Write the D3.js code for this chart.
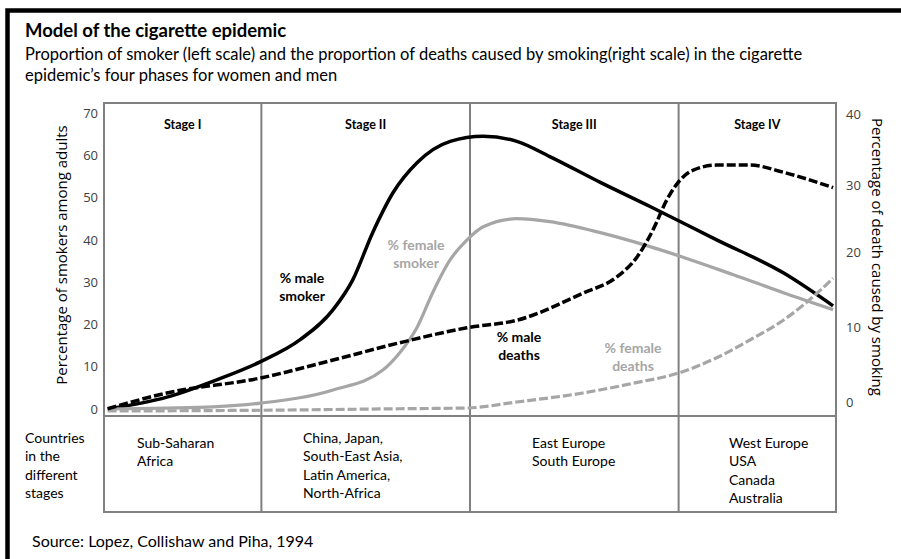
<!DOCTYPE html>
<html>
<head>
<meta charset="utf-8">
<script src="https://cdn.jsdelivr.net/npm/d3@7"></script>
<style>
  body { margin: 0; background: #fff; }
  svg { display: block; }
  .calib { font-family: Lato, "Open Sans", sans-serif; }
  .axis text { font-family: "Open Sans", sans-serif; font-size: 13px; fill: #404040; }
</style>
</head>
<body>
<div id="chart"></div>
<script>
// ---- data ----
// x runs 0..100 across the four stages (no ticks in the original)
const stageNames = ['Stage I', 'Stage II', 'Stage III', 'Stage IV'];
const stageBounds = [0, 21.5, 50, 78.5, 100];
const stageCountries = [
    ['Sub-Saharan', 'Africa'],
    ['China, Japan,', 'South-East Asia,', 'Latin America,', 'North-Africa'],
    ['East Europe', 'South Europe'],
    ['West Europe', 'USA', 'Canada', 'Australia']
];
const rowLabel = ['Countries', 'in the', 'different', 'stages'];

const leftTicks = [0, 10, 20, 30, 40, 50, 60, 70];
const rightTicks = [0, 10, 20, 30, 40];

// % male smokers (left scale)
const maleSmokerX = [0.5, 8.6, 15.4, 21.4, 26.8, 31.3, 34.0, 36.7, 39.5, 42.8, 47.3, 51.8, 56.4, 60.9, 67.8, 74.6, 83.7, 92.8, 99.6];
const maleSmoker  = [0, 2.8, 6.9, 11.2, 16.4, 23.5, 30.6, 41.7, 51.2, 58.3, 63.3, 64.5, 63.3, 59.7, 53.6, 47.9, 40, 32.2, 24.4];

// % female smokers (left scale)
const femaleSmokerX = [0.5, 8.6, 14.9, 21.4, 31.3, 38.1, 40.4, 42.8, 44.9, 47.3, 49.6, 51.8, 56.4, 60.9, 67.8, 74.6, 85.9, 92.8, 99.6];
const femaleSmoker  = [0, 0.2, 0.5, 1.4, 4.5, 9.2, 13.3, 19.4, 27.5, 35.3, 40, 43.1, 45, 44.3, 41.7, 38.4, 31.8, 27.5, 23.5];

// % male deaths caused by smoking (right scale)
const maleDeathsX = [0.5, 8.6, 21.4, 31.3, 40.4, 49.6, 56.4, 65.4, 70.1, 72.8, 75.0, 76.9, 78.7, 80.5, 83.7, 88.3, 92.8, 99.6];
const maleDeaths  = [-0.9, 1.2, 3.2, 5.6, 7.9, 9.9, 10.9, 14.5, 16.7, 19.3, 23.3, 27.8, 30.7, 32.1, 32.8, 32.8, 31.8, 29.6];

// % female deaths caused by smoking (right scale)
const femaleDeathsX = [0.5, 21.4, 40.4, 49.6, 56.4, 65.4, 72.3, 78.6, 83.7, 88.3, 92.8, 97.4, 99.6];
const femaleDeaths  = [-1.2, -1.1, -0.9, -0.8, 0, 1.2, 2.5, 3.9, 5.9, 8.3, 10.9, 14.5, 16.5];

const width = 901, height = 559;
const plot = { left: 104, right: 836, top: 103, bottom: 416, tableBottom: 512 };
const black = '#000', grey = '#a6a6a6', frameGrey = '#808080';

const svg = d3.select('#chart').append('svg')
    .attr('width', width)
    .attr('height', height);

// outer black frame (right/bottom run off the picture)
svg.append('rect')
    .attr('x', 7.5).attr('y', 10.5)
    .attr('width', 1000).attr('height', 1000)
    .attr('fill', 'none')
    .attr('stroke', black)
    .attr('stroke-width', 4.5);

// titles
svg.append('text')
    .attr('class', 'calib')
    .attr('x', 25).attr('y', 37)
    .style('font-size', '18.5px').style('font-weight', 'bold')
    .text('Model of the cigarette epidemic');

svg.append('text')
    .attr('class', 'calib')
    .attr('x', 25).attr('y', 60)
    .style('font-size', '16.5px')
    .text('Proportion of smoker (left scale) and the proportion of deaths caused by smoking(right scale) in the cigarette');

svg.append('text')
    .attr('class', 'calib')
    .attr('x', 25).attr('y', 81)
    .style('font-size', '16.5px')
    .text('epidemic\u2019s four phases for women and men');

// scales
const x = d3.scaleLinear().domain([0, 100]).range([plot.left, plot.right]);
const yLeft = d3.scaleLinear().domain([0, 70]).range([409, 113]);
// the right scale in the picture is not evenly spaced
const yRight = d3.scaleLinear().domain([0, 10, 20, 30, 40]).range([402, 327, 252, 185, 114]);

// plot frame + stage dividers (running into the table)
svg.append('rect')
    .attr('x', plot.left).attr('y', plot.top)
    .attr('width', plot.right - plot.left)
    .attr('height', plot.tableBottom - plot.top)
    .attr('fill', 'none')
    .attr('stroke', frameGrey)
    .attr('stroke-width', 2);

svg.append('line')
    .attr('x1', plot.left).attr('x2', plot.right)
    .attr('y1', plot.bottom).attr('y2', plot.bottom)
    .attr('stroke', frameGrey).attr('stroke-width', 2);

svg.selectAll('.divider')
    .data(stageBounds.slice(1, -1))
    .join('line')
    .attr('class', 'divider')
    .attr('x1', d => x(d)).attr('x2', d => x(d))
    .attr('y1', plot.top).attr('y2', plot.tableBottom)
    .attr('stroke', frameGrey).attr('stroke-width', 2);

// stage headers
svg.selectAll('.stage')
    .data(stageNames)
    .join('text')
    .attr('class', 'stage calib')
    .attr('x', (d, i) => x((stageBounds[i] + stageBounds[i + 1]) / 2))
    .attr('y', 129)
    .attr('text-anchor', 'middle')
    .style('font-size', '12.5px').style('font-weight', 'bold')
    .text(d => d);

// axes
const leftAxis = d3.axisLeft(yLeft).tickValues(leftTicks).tickSize(0).tickPadding(6);
svg.append('g')
    .attr('class', 'axis')
    .attr('transform', `translate(${plot.left},0)`)
    .call(leftAxis)
    .call(g => g.select('.domain').remove());

const rightAxis = d3.axisRight(yRight).tickValues(rightTicks).tickSize(0).tickPadding(10);
svg.append('g')
    .attr('class', 'axis')
    .attr('transform', `translate(${plot.right},0)`)
    .call(rightAxis)
    .call(g => g.select('.domain').remove());

svg.append('text')
    .attr('transform', 'translate(67,255) rotate(-90)')
    .attr('text-anchor', 'middle')
    .style('font-family', '"Open Sans", sans-serif')
    .style('font-size', '15px')
    .text('Percentage of smokers among adults');

svg.append('text')
    .attr('transform', 'translate(872,257) rotate(90)')
    .attr('text-anchor', 'middle')
    .style('font-family', '"Open Sans", sans-serif')
    .style('font-size', '15px')
    .text('Percentage of death caused by smoking');

// curves
const series = [
    { xs: maleSmokerX, ys: maleSmoker, scale: yLeft, color: black, dash: null, w: 3.5 },
    { xs: femaleSmokerX, ys: femaleSmoker, scale: yLeft, color: grey, dash: null, w: 3.2 },
    { xs: femaleDeathsX, ys: femaleDeaths, scale: yRight, color: grey, dash: '9,3', w: 3.2 },
    { xs: maleDeathsX, ys: maleDeaths, scale: yRight, color: black, dash: '9,3', w: 3.5 }
];

series.forEach(s => {
    const pts = s.xs.map((v, i) => [v, s.ys[i]]);
    const line = d3.line()
        .x(d => x(d[0]))
        .y(d => s.scale(d[1]))
        .curve(d3.curveMonotoneX);
    svg.append('path')
        .datum(pts)
        .attr('d', line)
        .attr('fill', 'none')
        .attr('stroke', s.color)
        .attr('stroke-width', s.w)
        .attr('stroke-dasharray', s.dash);
});

// curve labels
const curveLabels = [
    { lines: ['% male', 'smoker'], cx: 302, y: 283, color: black },
    { lines: ['% female', 'smoker'], cx: 416, y: 250, color: grey },
    { lines: ['% male', 'deaths'], cx: 519, y: 342, color: black },
    { lines: ['% female', 'deaths'], cx: 633, y: 353, color: grey }
];

curveLabels.forEach(l => {
    svg.append('text')
        .attr('class', 'calib')
        .attr('text-anchor', 'middle')
        .attr('fill', l.color)
        .style('font-size', '14px').style('font-weight', 'bold')
        .selectAll('tspan')
        .data(l.lines)
        .join('tspan')
        .attr('x', l.cx)
        .attr('y', (d, i) => l.y + i * 17.5)
        .text(d => d);
});

// country table
const colX = [137, 303, 532, 729];
svg.selectAll('.countries')
    .data(stageCountries)
    .join('text')
    .attr('class', 'countries calib')
    .style('font-size', '14px')
    .each(function (lines, i) {
        const top = lines.length === 4 && i === 1 ? 443 : 448;
        d3.select(this).selectAll('tspan')
            .data(lines)
            .join('tspan')
            .attr('x', colX[i])
            .attr('y', (d, j) => top + j * 18.3)
            .text(d => d);
    });

svg.append('text')
    .attr('class', 'calib')
    .style('font-size', '14px')
    .selectAll('tspan')
    .data(rowLabel)
    .join('tspan')
    .attr('x', 25)
    .attr('y', (d, i) => 443 + i * 18.3)
    .text(d => d);

svg.append('text')
    .attr('class', 'calib')
    .attr('x', 32).attr('y', 547)
    .style('font-size', '16px')
    .text('Source: Lopez, Collishaw and Piha, 1994');
</script>
</body>
</html>
